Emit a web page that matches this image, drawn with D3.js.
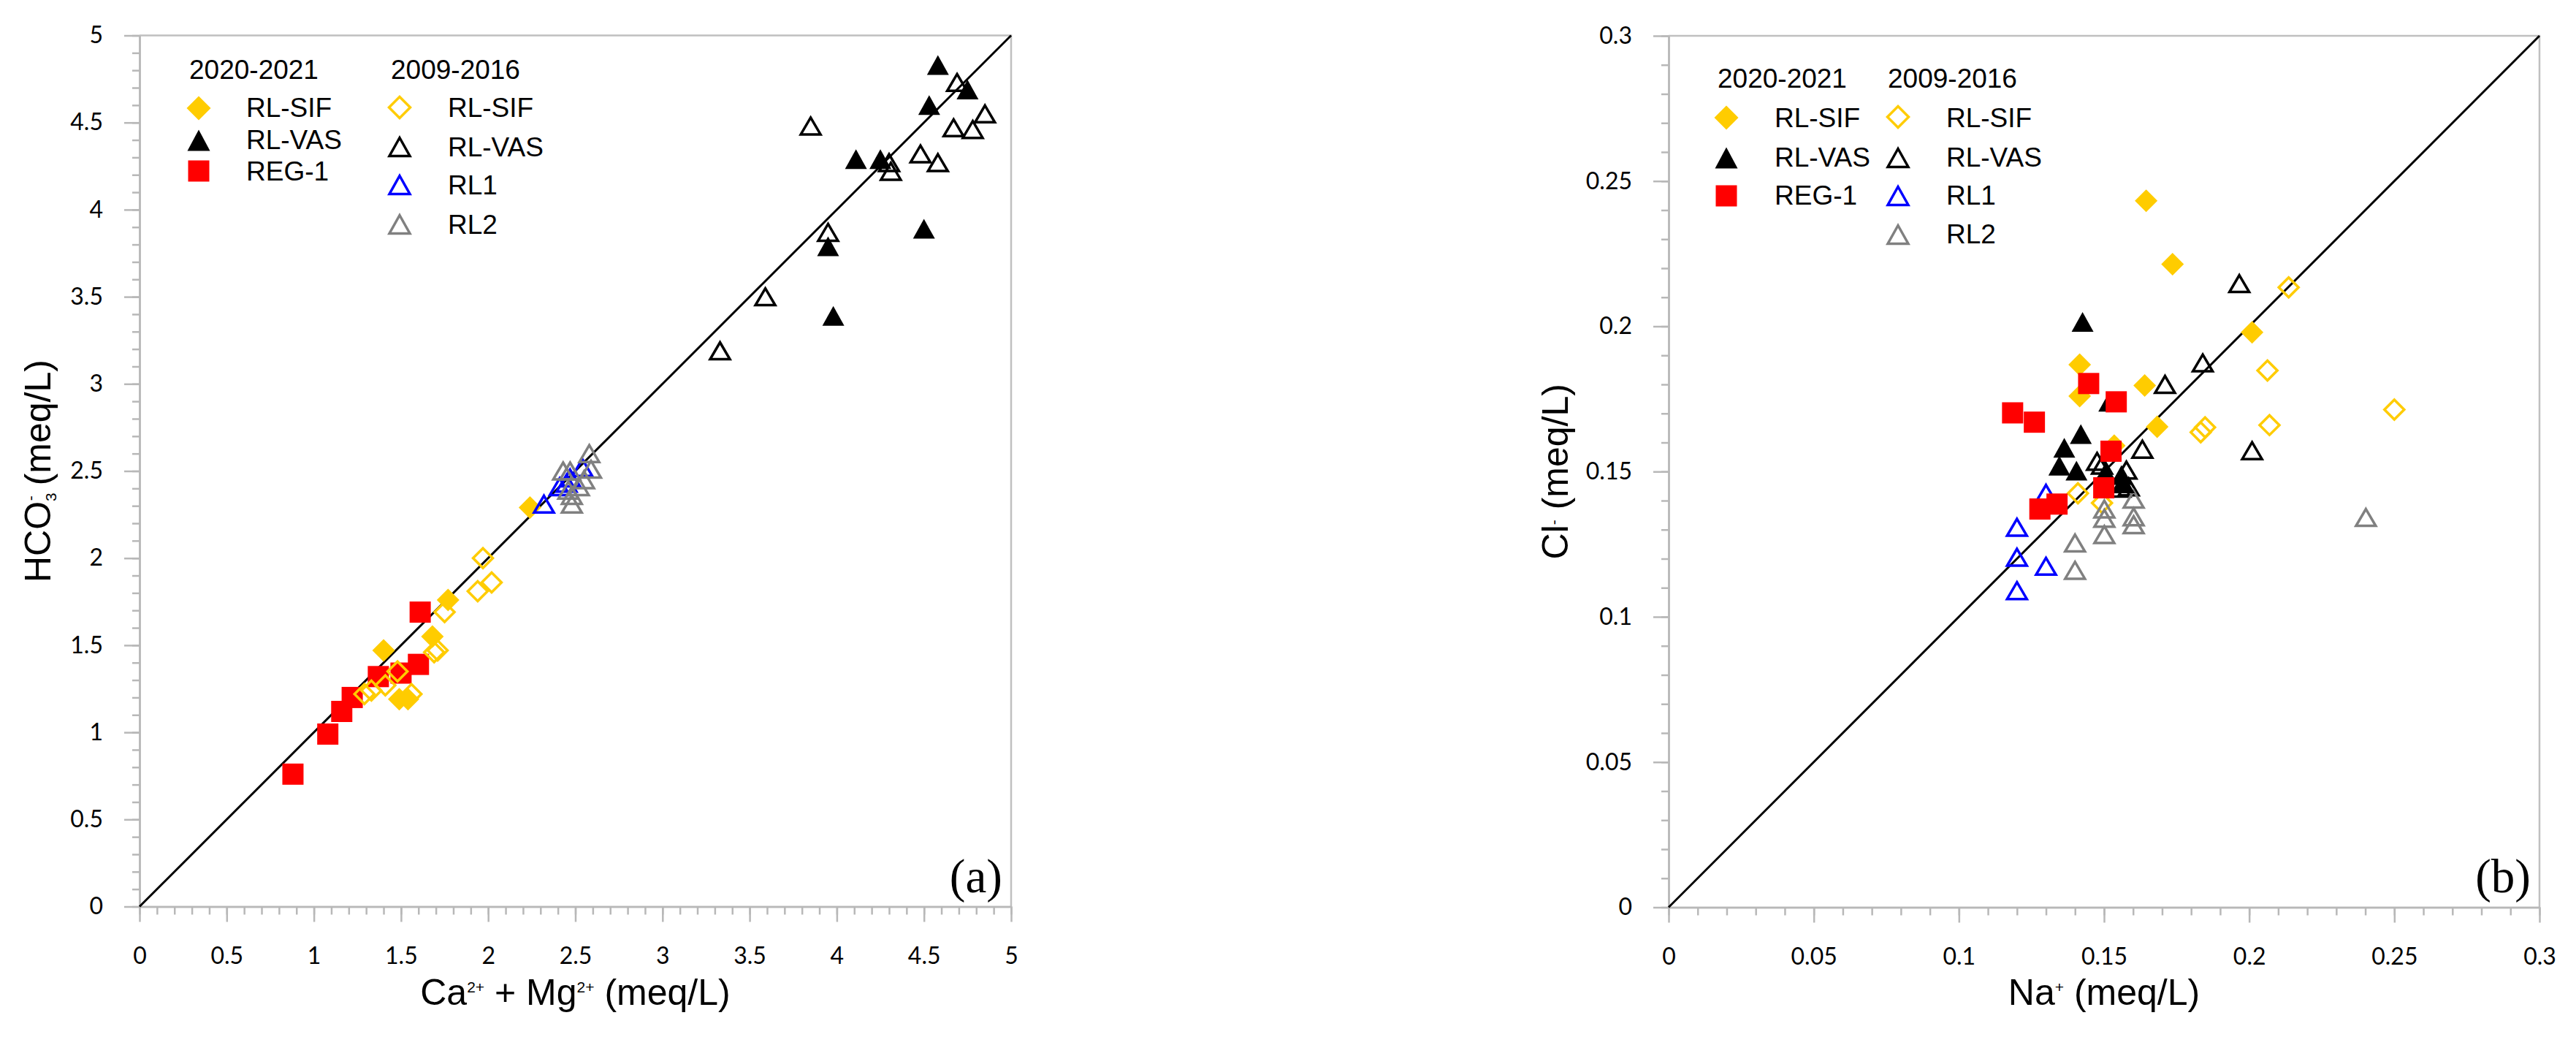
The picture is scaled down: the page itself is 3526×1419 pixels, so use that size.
<!DOCTYPE html>
<html>
<head>
<meta charset="utf-8">
<script src="https://cdn.jsdelivr.net/npm/d3@7"></script>
<style>
  body { margin: 0; background: #fff; }
  svg { display: block; }
  .tick text { font-family: Lato, "Open Sans", sans-serif; font-size: 32px; fill: #000; }
  .axis path, .axis line { stroke: #b8b8b8; stroke-width: 2.5; }
</style>
</head>
<body>
<script>
// ---- DATA ----

// panel (a): HCO3- vs Ca2+ + Mg2+
var aTicks = [0, 0.5, 1, 1.5, 2, 2.5, 3, 3.5, 4, 4.5, 5];
var aSifNewX = [2.24, 1.77, 1.68, 1.40, 1.49, 1.54];
var aSifNewY = [2.29, 1.76, 1.55, 1.47, 1.19, 1.19];
var aVasNewX = [4.58, 4.75, 4.53, 4.11, 4.25, 3.95, 4.50, 3.98];
var aVasNewY = [4.83, 4.69, 4.60, 4.29, 4.29, 3.79, 3.89, 3.39];
var aRegX = [0.88, 1.08, 1.16, 1.22, 1.37, 1.50, 1.60, 1.61];
var aRegY = [0.76, 0.99, 1.12, 1.20, 1.32, 1.34, 1.39, 1.69];
var aSifOldX = [1.97, 1.94, 2.02, 1.75, 1.69, 1.71, 1.48, 1.29, 1.33, 1.56, 1.41];
var aSifOldY = [2.00, 1.81, 1.86, 1.69, 1.46, 1.47, 1.35, 1.22, 1.24, 1.22, 1.27];
var aVasOldX = [3.85, 4.69, 4.85, 4.67, 4.78, 4.48, 4.58, 4.30, 4.31, 3.95, 3.59, 3.33];
var aVasOldY = [4.48, 4.73, 4.55, 4.47, 4.46, 4.32, 4.27, 4.27, 4.22, 3.87, 3.50, 3.19];
var aRl1X = [2.32, 2.41, 2.45, 2.47, 2.54];
var aRl1Y = [2.31, 2.41, 2.43, 2.46, 2.52];
var aRl2X = [2.58, 2.59, 2.43, 2.47, 2.55, 2.52, 2.46, 2.48, 2.48];
var aRl2Y = [2.60, 2.51, 2.50, 2.50, 2.45, 2.41, 2.39, 2.36, 2.31];

// panel (b): Cl- vs Na+
var bTicks = [0, 0.05, 0.1, 0.15, 0.2, 0.25, 0.3];
var bSifNewX = [0.1645, 0.1736, 0.201, 0.1416, 0.1416, 0.164, 0.1683, 0.1535];
var bSifNewY = [0.2432, 0.2214, 0.1979, 0.1868, 0.176, 0.1796, 0.1654, 0.1589];
var bVasNewX = [0.1426, 0.1518, 0.142, 0.1363, 0.1346, 0.1405, 0.1505, 0.156, 0.1568];
var bVasNewY = [0.2015, 0.174, 0.1629, 0.1582, 0.152, 0.1503, 0.1497, 0.1488, 0.1459];
var bRegX = [0.1185, 0.126, 0.1447, 0.1542, 0.1524, 0.1499, 0.1279, 0.1338];
var bRegY = [0.1702, 0.167, 0.1803, 0.174, 0.157, 0.1444, 0.1371, 0.1388];
var bSifOldX = [0.2136, 0.2063, 0.250, 0.207, 0.1833, 0.1848, 0.141, 0.1493];
var bSifOldY = [0.2134, 0.1848, 0.1713, 0.166, 0.1635, 0.1652, 0.1425, 0.1392];
var bVasOldX = [0.1966, 0.184, 0.171, 0.1632, 0.201, 0.1476, 0.1493, 0.1577, 0.1556, 0.1585];
var bVasOldY = [0.2147, 0.1874, 0.180, 0.1577, 0.1572, 0.1535, 0.1522, 0.1505, 0.1443, 0.1447];
var bRl1X = [0.130, 0.120, 0.120, 0.130, 0.120];
var bRl1Y = [0.1425, 0.1308, 0.1205, 0.1174, 0.109];
var bRl2X = [0.1602, 0.1501, 0.1501, 0.1602, 0.1602, 0.1501, 0.140, 0.140, 0.2402];
var bRl2Y = [0.1405, 0.1371, 0.1339, 0.1344, 0.1317, 0.1283, 0.1254, 0.116, 0.1342];

var legendNewTitle = "2020-2021";
var legendOldTitle = "2009-2016";
var legendNew = ["RL-SIF", "RL-VAS", "REG-1"];
var legendOld = ["RL-SIF", "RL-VAS", "RL1", "RL2"];

// ---- MARKERS ----
var yellow = "#FFCC00";
function diamond(r) { return "M0," + (-r) + "L" + r + ",0L0," + r + "L" + (-r) + ",0Z"; }
function triangle(w, h) { return "M0," + (-h / 2) + "L" + (w / 2) + "," + (h / 2) + "L" + (-w / 2) + "," + (h / 2) + "Z"; }
function square(s) { return "M" + (-s / 2) + "," + (-s / 2) + "h" + s + "v" + s + "h" + (-s) + "Z"; }

var styles = {
  sifNew: { d: diamond(15.5), fill: yellow, stroke: "none", sw: 0 },
  vasNew: { d: triangle(30, 27), fill: "#000", stroke: "none", sw: 0 },
  reg:    { d: square(29), fill: "#FF0000", stroke: "none", sw: 0 },
  sifOld: { d: diamond(13.5), fill: "none", stroke: yellow, sw: 3.5 },
  vasOld: { d: triangle(27, 23), fill: "none", stroke: "#000", sw: 3.5 },
  rl1:    { d: triangle(27, 23), fill: "none", stroke: "#0000FF", sw: 3.5 },
  rl2:    { d: triangle(27, 23), fill: "none", stroke: "#808080", sw: 3.5 }
};
var legendStyles = {
  sifNew: diamond(16.5), vasNew: triangle(31, 29), reg: square(29),
  sifOld: diamond(14.5), vasOld: triangle(28, 25), rl1: triangle(28, 25), rl2: triangle(28, 25)
};

const width = 3526, height = 1419;
var svg = d3.select("body").append("svg").attr("width", width).attr("height", height);
svg.append("rect").attr("width", width).attr("height", height).attr("fill", "#fff");

function styleAxis(g) {
  g.classed("axis", true);
}

function drawPanel(p) {
  var x = d3.scaleLinear().domain([0, p.max]).range([p.left, p.right]);
  var y = d3.scaleLinear().domain([0, p.max]).range([p.bottom, p.top]);

  // border (top and right)
  svg.append("path")
    .attr("d", "M" + p.left + "," + p.top + "H" + p.right + "V" + p.bottom)
    .attr("fill", "none").attr("stroke", "#c0c0c0").attr("stroke-width", 2.5);

  // minor ticks
  svg.append("g").attr("transform", "translate(0," + p.bottom + ")")
    .call(d3.axisBottom(x).tickValues(p.minor).tickSize(11).tickSizeOuter(0).tickFormat(""))
    .call(styleAxis);
  svg.append("g").attr("transform", "translate(" + p.left + ",0)")
    .call(d3.axisLeft(y).tickValues(p.minor).tickSize(10).tickSizeOuter(0).tickFormat(""))
    .call(styleAxis);

  // major ticks and labels
  svg.append("g").attr("transform", "translate(0," + p.bottom + ")")
    .call(d3.axisBottom(x).tickValues(p.ticks).tickSize(21).tickSizeOuter(0).tickPadding(35).tickFormat(String))
    .call(styleAxis);
  svg.append("g").attr("transform", "translate(" + p.left + ",0)")
    .call(d3.axisLeft(y).tickValues(p.ticks).tickSize(21).tickSizeOuter(0).tickPadding(29).tickFormat(String))
    .call(styleAxis);
  svg.selectAll(".tick line").attr("stroke", "#b8b8b8");

  // 1:1 line
  svg.append("path")
    .attr("d", d3.line()([[x(0), y(0)], [x(p.max), y(p.max)]]))
    .attr("stroke", "#000").attr("stroke-width", 3).attr("fill", "none");

  // points
  p.series.forEach(function (s) {
    var st = styles[s.key];
    var pts = s.x.map(function (v, i) { return [v, s.y[i]]; });
    svg.append("g").selectAll("path").data(pts).join("path")
      .attr("d", st.d)
      .attr("transform", function (d) { return "translate(" + x(d[0]) + "," + y(d[1]) + ")"; })
      .attr("fill", st.fill).attr("stroke", st.stroke).attr("stroke-width", st.sw)
      .attr("stroke-linejoin", "miter");
  });

  // legend
  var lg = svg.append("g").attr("font-family", "'Liberation Sans', Arial, sans-serif").attr("font-size", 37);
  lg.append("text").attr("x", p.leg.head1).attr("y", p.leg.headY).text(legendNewTitle);
  lg.append("text").attr("x", p.leg.head2).attr("y", p.leg.headY).text(legendOldTitle);
  var newKeys = ["sifNew", "vasNew", "reg"], oldKeys = ["sifOld", "vasOld", "rl1", "rl2"];
  legendNew.forEach(function (lab, i) {
    var st = styles[newKeys[i]];
    lg.append("path").attr("d", legendStyles[newKeys[i]])
      .attr("transform", "translate(" + p.leg.m1 + "," + p.leg.rows1[i] + ")")
      .attr("fill", st.fill).attr("stroke", st.stroke).attr("stroke-width", st.sw);
    lg.append("text").attr("x", p.leg.t1).attr("y", p.leg.base1[i]).text(lab);
  });
  legendOld.forEach(function (lab, i) {
    var st = styles[oldKeys[i]];
    lg.append("path").attr("d", legendStyles[oldKeys[i]])
      .attr("transform", "translate(" + p.leg.m2 + "," + p.leg.rows2[i] + ")")
      .attr("fill", st.fill).attr("stroke", st.stroke).attr("stroke-width", st.sw);
    lg.append("text").attr("x", p.leg.t2).attr("y", p.leg.base2[i]).text(lab);
  });

  // x title
  var xt = svg.append("text").attr("x", (p.left + p.right) / 2).attr("y", 1375)
    .attr("text-anchor", "middle").attr("font-family", "'Liberation Sans', Arial, sans-serif").attr("font-size", 50);
  p.xTitle.forEach(function (part) {
    xt.append("tspan").attr("font-size", part.sup ? 21 : 50).attr("dy", part.dy || 0).text(part.t);
  });

  // y title
  var yt = svg.append("text")
    .attr("transform", "translate(" + p.yTitleX + "," + (p.top + p.bottom) / 2 + ") rotate(-90)")
    .attr("text-anchor", "middle").attr("font-family", "'Liberation Sans', Arial, sans-serif").attr("font-size", 50);
  p.yTitle.forEach(function (part) {
    yt.append("tspan").attr("font-size", part.sup ? 21 : 50).attr("dy", part.dy || 0).attr("dx", part.dx || 0).text(part.t);
  });

  // panel letter
  svg.append("text").attr("x", p.right - 12).attr("y", 1221)
    .attr("text-anchor", "end").attr("font-family", "'Liberation Serif', 'Times New Roman', serif")
    .attr("font-size", 65).text(p.letter);
}

drawPanel({
  max: 5, left: 191, right: 1384, top: 48.5, bottom: 1240.5,
  ticks: aTicks, minor: d3.range(0, 51).map(function (i) { return i / 10; }),
  series: [
    { key: "vasNew", x: aVasNewX, y: aVasNewY },
    { key: "sifNew", x: aSifNewX, y: aSifNewY },
    { key: "reg", x: aRegX, y: aRegY },
    { key: "sifOld", x: aSifOldX, y: aSifOldY },
    { key: "vasOld", x: aVasOldX, y: aVasOldY },
    { key: "rl1", x: aRl1X, y: aRl1Y },
    { key: "rl2", x: aRl2X, y: aRl2Y }
  ],
  leg: { headY: 108, head1: 259, head2: 535, m1: 272, t1: 337, m2: 547, t2: 613,
         rows1: [148, 192, 234], base1: [160, 204, 247],
         rows2: [147, 201, 253, 307], base2: [160, 214, 266, 320] },
  xTitle: [{ t: "Ca" }, { t: "2+", sup: true, dy: -17 }, { t: " + Mg", dy: 17 }, { t: "2+", sup: true, dy: -17 }, { t: " (meq/L)", dy: 17 }],
  yTitleX: 69,
  yTitle: [{ t: "HCO" }, { t: "3", sup: true, dy: 8 }, { t: "-", sup: true, dx: -11, dy: -28 }, { t: " (meq/L)", dy: 20 }],
  letter: "(a)"
});

drawPanel({
  max: 0.3, left: 2284, right: 3476, top: 49, bottom: 1241.5,
  ticks: bTicks, minor: d3.range(0, 31).map(function (i) { return i / 100; }),
  series: [
    { key: "sifOld", x: bSifOldX, y: bSifOldY },
    { key: "vasOld", x: bVasOldX, y: bVasOldY },
    { key: "rl1", x: bRl1X, y: bRl1Y },
    { key: "rl2", x: bRl2X, y: bRl2Y },
    { key: "sifNew", x: bSifNewX, y: bSifNewY },
    { key: "vasNew", x: bVasNewX, y: bVasNewY },
    { key: "reg", x: bRegX, y: bRegY }
  ],
  leg: { headY: 120, head1: 2351, head2: 2584, m1: 2363, t1: 2429, m2: 2598, t2: 2664,
         rows1: [161, 216, 268], base1: [174, 228, 280],
         rows2: [160, 216, 268, 321], base2: [174, 228, 280, 333] },
  xTitle: [{ t: "Na" }, { t: "+", sup: true, dy: -17 }, { t: " (meq/L)", dy: 17 }],
  yTitleX: 2146,
  yTitle: [{ t: "Cl" }, { t: "-", sup: true, dy: -12 }, { t: " (meq/L)", dy: 12 }],
  letter: "(b)"
});
</script>
</body>
</html>
